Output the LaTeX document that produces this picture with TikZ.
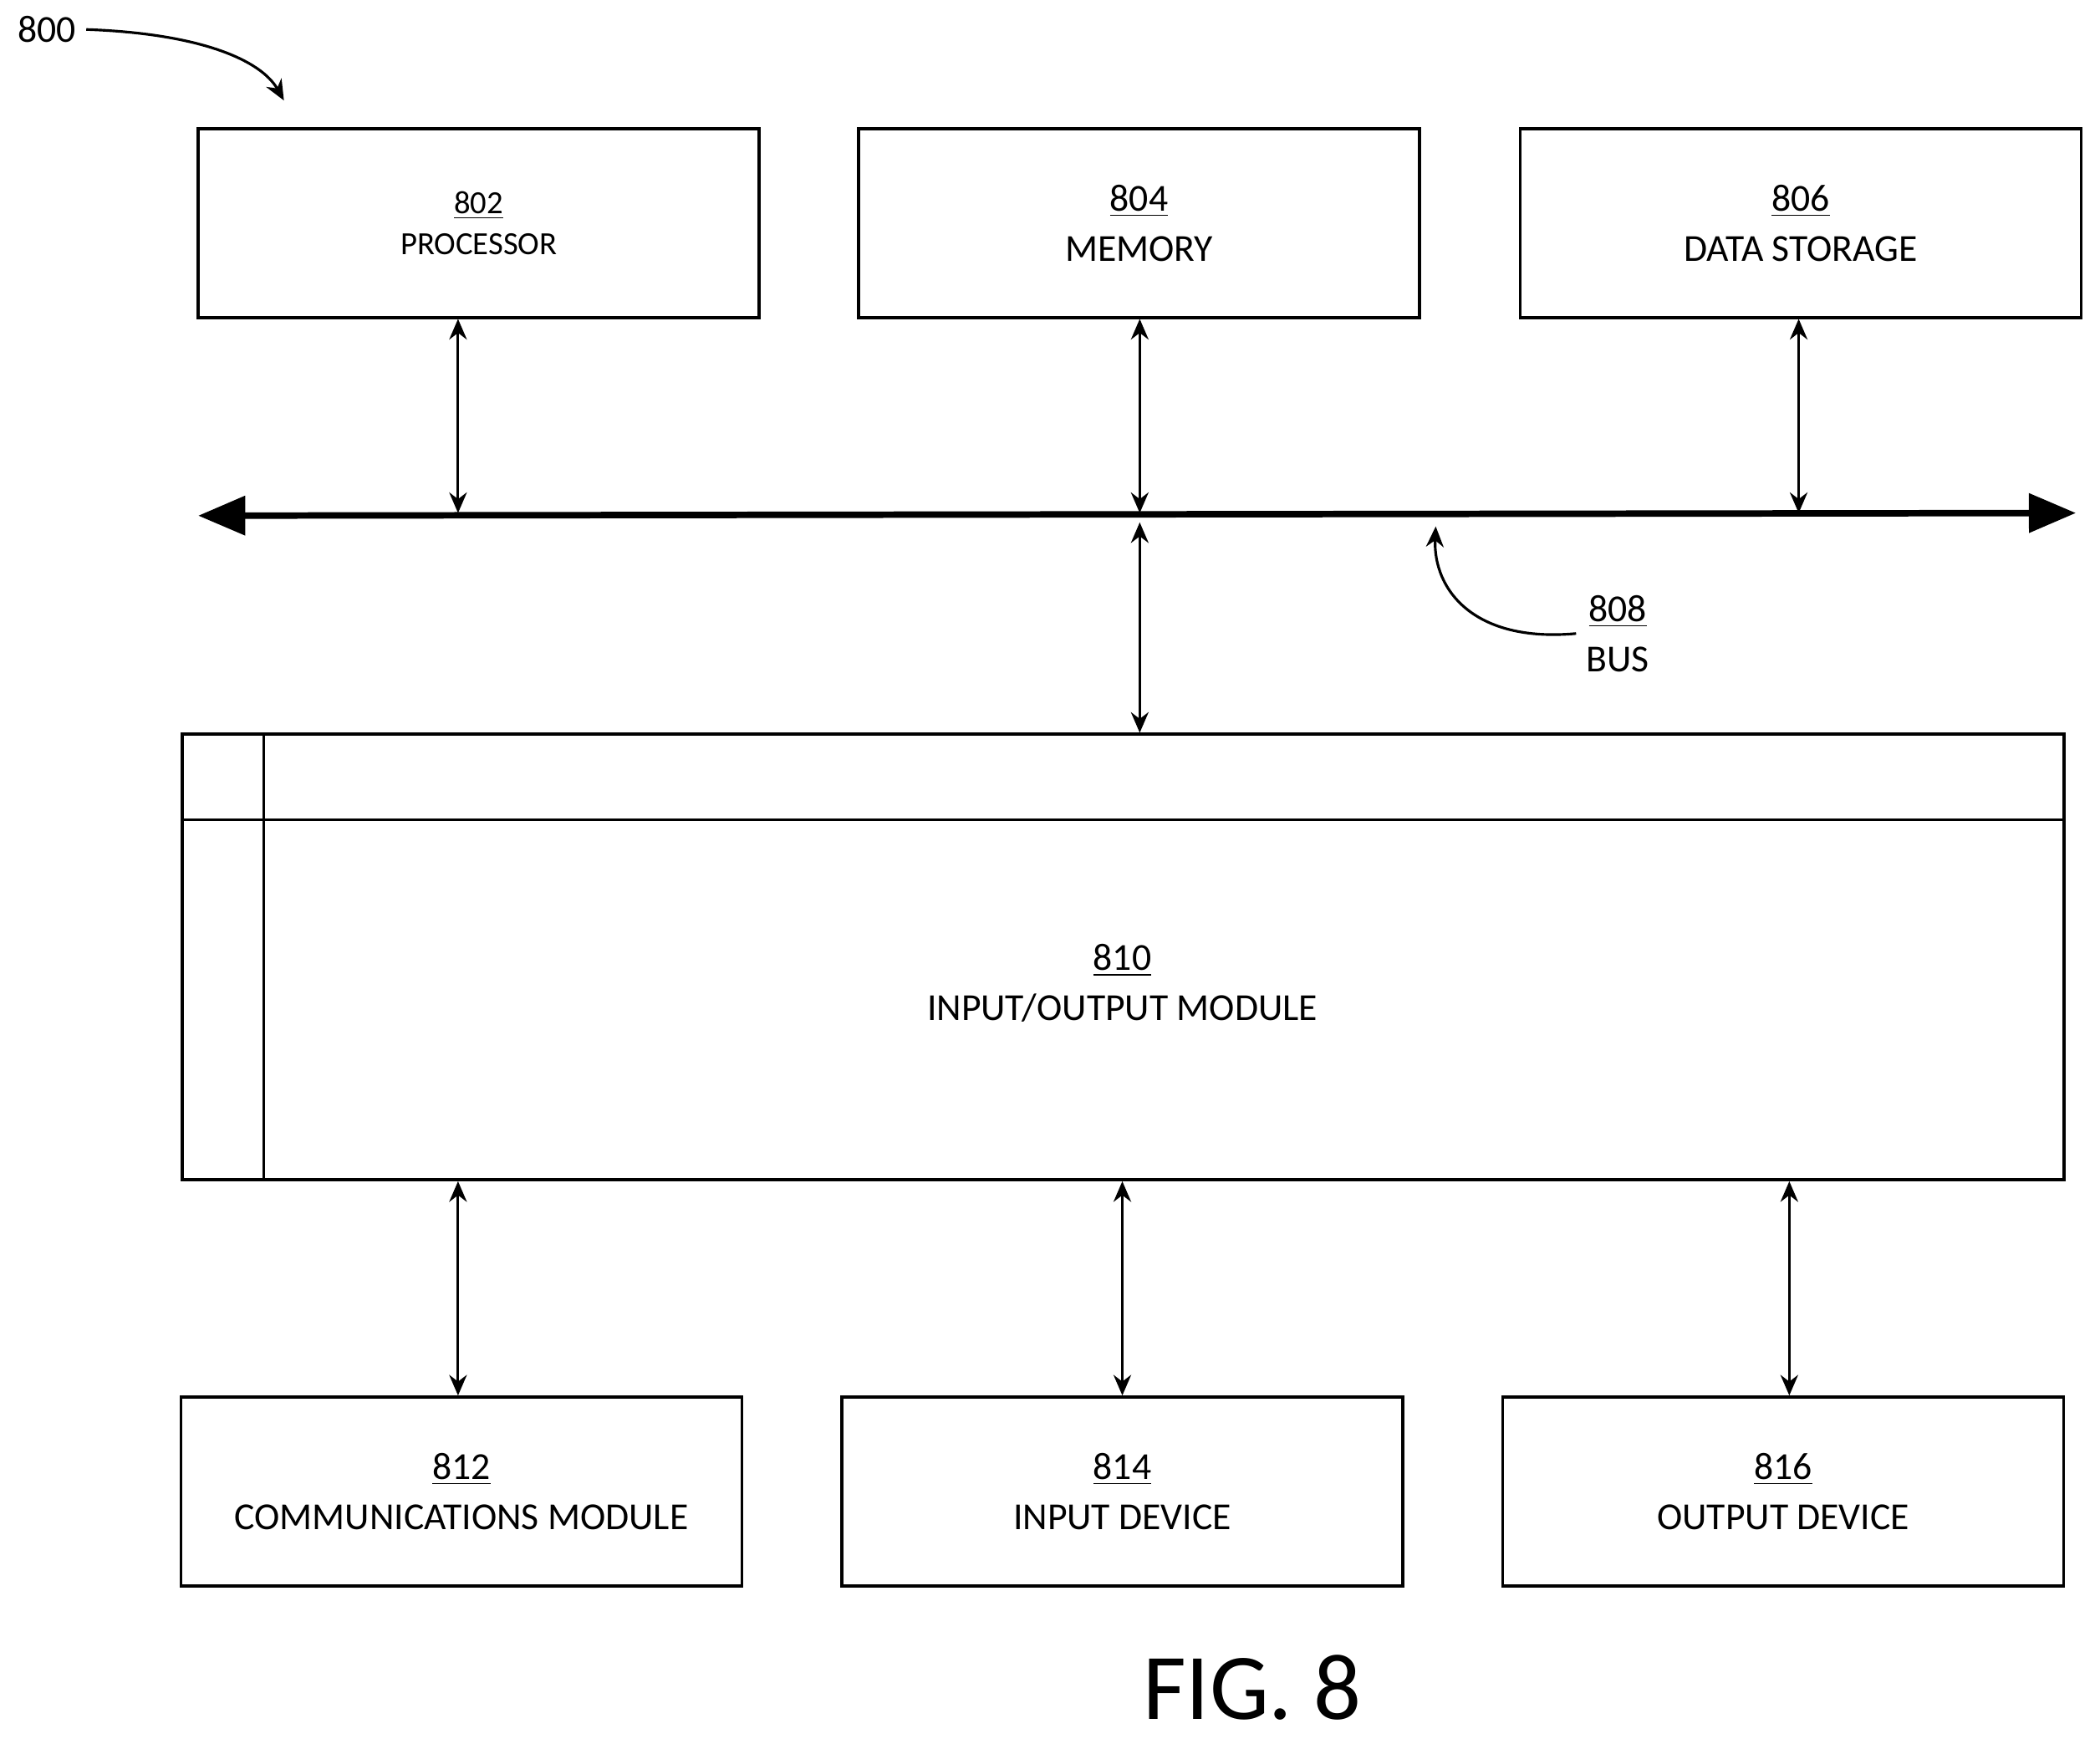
\documentclass[tikz,border=0pt]{standalone}
\usepackage{fontspec}
\setmainfont{Carlito}
\usetikzlibrary{positioning,arrows.meta}

\tikzset{
  blk/.style={draw, line width=1pt, inner sep=0pt, align=center, minimum width=6.71cm, minimum height=2.26cm, font=\fontsize{13}{17}\selectfont},
  link/.style={line width=0.9pt, {Stealth[length=7pt,width=6pt]}-{Stealth[length=7pt,width=6pt]}},
  lead/.style={line width=0.9pt, -{Stealth[length=7pt,width=6pt]}}
}

\begin{document}
\begin{tikzpicture}[x=0.01602cm, y=-0.01602cm]
\useasboundingbox (0,0) rectangle (1568,1302);

%
\node[blk, font=\fontsize{11}{14}\selectfont] (proc) at (357.5,166.5) {\underline{802}\\PROCESSOR};
\node[blk] (mem) at (850.5,166.5) {\underline{804}\\MEMORY};
\node[blk] (stor) at (1344.5,166.5) {\underline{806}\\DATA STORAGE};

%
\coordinate (busL) at (148,385);
\coordinate (busR) at (1550,383);
\draw[line width=2.2pt, {Triangle[length=16pt,width=13pt]}-{Triangle[length=16pt,width=13pt]}] (busL) -- (busR);
\coordinate (b1) at (342,383);
\coordinate (b2) at (851,383);
\coordinate (b3) at (1343,383);
\coordinate (b4) at (851,390);
\draw[link] (proc.south -| b1) -- (b1);
\draw[link] (mem.south -| b2) -- (b2);
\draw[link] (stor.south -| b3) -- (b3);

%
\node[font=\fontsize{13}{17}\selectfont, align=center] (buslabel) at (1208,473) {\underline{808}\\BUS};
\coordinate (bustip) at (1072,393);
\draw[lead] (buslabel.west) .. controls (1100,480) and (1070,440) .. (bustip);

%
\node[draw, line width=1pt, minimum width=22.51cm, minimum height=5.33cm, inner sep=0pt] (iobox) at (838.5,714.5) {};
\draw[line width=1pt] (136,612) -- (1541,612);
\draw[line width=1pt] (197,548) -- (197,881);
\node[font=\fontsize{13}{17}\selectfont, align=center] (io) at (838,734) {\underline{810}\\INPUT/OUTPUT MODULE};
\draw[link] (b4) -- (iobox.north -| b4);

%
\node[blk] (comm) at (344.5,1113.5) {\underline{812}\\COMMUNICATIONS MODULE};
\node[blk] (indev) at (838,1113.5) {\underline{814}\\INPUT DEVICE};
\node[blk] (outdev) at (1331.5,1113.5) {\underline{816}\\OUTPUT DEVICE};
\draw[link] (iobox.south -| 342,0) -- (comm.north -| 342,0);
\draw[link] (iobox.south -| indev) -- (indev.north);
\draw[link] (iobox.south -| 1336,0) -- (outdev.north -| 1336,0);

%
\node[font=\fontsize{13}{17}\selectfont] (fignum) at (35,22) {800};
\coordinate (figtip) at (212,75);
\draw[lead] (fignum.east) .. controls (150,25) and (195,45) .. (figtip);

\node[font=\fontsize{32}{38}\selectfont] (figlabel) at (935,1260) {FIG. 8};
\end{tikzpicture}
\end{document}
